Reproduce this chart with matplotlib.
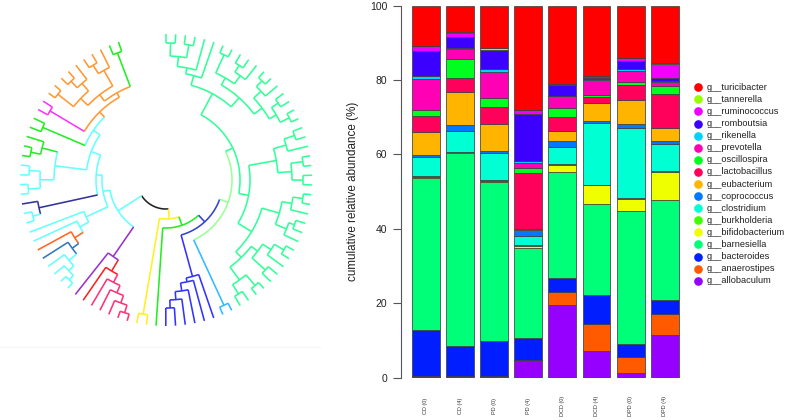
import numpy as np
import matplotlib
matplotlib.use("Agg")
import matplotlib.pyplot as plt
from matplotlib.transforms import blended_transform_factory

plt.rcParams['font.family'] = ['Liberation Sans', 'DejaVu Sans']

# ---- bar data (stack order bottom -> top) ----
samples = ["CD (0)", "CD (4)", "PD (0)", "PD (4)", "DCD (0)", "DCD (4)", "DPD (0)", "DPD (4)"]
genera = ["g__allobaculum", "g__anaerostipes", "g__bacteroides", "g__barnesiella",
          "g__bifidobacterium", "g__burkholderia", "g__clostridium", "g__coprococcus",
          "g__eubacterium", "g__lactobacillus", "g__oscillospira", "g__prevotella",
          "g__rikenella", "g__romboutsia", "g__ruminococcus", "g__tannerella", "g__turicibacter"]
genus_colors = ["#9600FF", "#FF5A00", "#001EFF", "#00FF78", "#F0FF00", "#3CFF00", "#00FFD2",
                "#0078FF", "#FFB400", "#FF005A", "#00FF1E", "#FF00B4", "#00D2FF", "#3C00FF",
                "#F000FF", "#96FF00", "#FF0000"]

allobaculum     = [0.3, 0.4, 0.4, 4.7, 19.6, 7.3, 1.2, 11.6]
anaerostipes    = [0.05, 0.05, 0.05, 0.2, 3.4, 7.2, 4.5, 5.6]
bacteroides     = [12.4, 8.05, 9.5, 5.7, 3.9, 7.6, 3.4, 3.6]
barnesiella     = [41.1, 52.2, 42.8, 24.4, 28.7, 24.7, 35.9, 27.1]
bifidobacterium = [0.2, 0.2, 0.15, 0.6, 1.8, 4.9, 3.2, 7.6]
burkholderia    = [0.2, 0.1, 0.15, 0.2, 0.2, 0.1, 0.3, 0.1]
clostridium     = [5.2, 5.5, 7.5, 2.5, 4.7, 16.6, 18.8, 7.3]
coprococcus     = [0.4, 1.7, 0.3, 1.5, 1.6, 0.7, 1.2, 0.9]
eubacterium     = [6.3, 9.0, 7.4, 0.4, 2.6, 4.7, 6.4, 3.5]
lactobacillus   = [4.2, 3.6, 4.5, 14.9, 3.9, 1.7, 4.0, 9.2]
oscillospira    = [1.8, 5.1, 2.5, 1.5, 2.4, 0.4, 0.9, 2.2]
prevotella      = [8.2, 2.9, 7.1, 1.2, 3.2, 4.2, 3.1, 0.9]
rikenella       = [0.9, 0.2, 0.7, 0.7, 0.1, 0.2, 0.3, 0.2]
romboutsia      = [6.6, 2.8, 5.1, 12.5, 2.8, 0.3, 2.2, 1.0]
ruminococcus    = [1.35, 1.3, 0.1, 1.1, 0.2, 0.2, 0.9, 3.8]
tannerella      = [0.1, 0.05, 0.3, 0.1, 0.05, 0.3, 0.1, 0.1]
turicibacter    = [10.85, 7.2, 11.5, 28.1, 21.2, 18.9, 14.0, 15.5]

abund = np.array([allobaculum, anaerostipes, bacteroides, barnesiella, bifidobacterium,
                  burkholderia, clostridium, coprococcus, eubacterium, lactobacillus,
                  oscillospira, prevotella, rikenella, romboutsia, ruminococcus,
                  tannerella, turicibacter])
abund = abund / abund.sum(axis=0) * 100

# ---- tree (topology + node radius in px, @colour key) ----
tree_cols = {'bk': '#222222', 'sg': '#33FF99', 'lg': '#99FF99', 'lb': '#33BBFF',
             'bl': '#3333FF', 'bn': '#3344CC', 'gr': '#22EE22', 'ye': '#FFF022',
             'pk': '#FF3377', 'rd': '#FF2222', 'pu': '#9933CC', 'cy': '#66FFFF',
             'sb': '#3377BB', 'or': '#FF6622', 'nv': '#333399', 'mg': '#FF33FF',
             'og': '#FF9933'}

sg_a1 = "((((x,x)137,(x,x)137)124,x)114,x)108"
sg_a2 = "(((x,x)138,((x,x)136,x)128)118,(((x,x)138,x)130,((x,x)136,(x,x)138)128)120)110"
sg_b1 = "(((x,x)136,x)125,((x,x)138,(x,x)137)126)112"
sg_b2 = "((((x,x)138,x)128,((x,x)136,x)130)118,((((x,x)137,x)126,(x,x)134)116,((x,x)138,(x,x)135)124)108)100"
sg = f"(({sg_a1},{sg_a2})98,({sg_b1},{sg_b2})84)74@sg"
lb = "(x,x)138@lb"
blue = "(x,(x,(x,(x,(x,x)128)120)112)104)100@bl"
right_side = f"(((({sg},{lb})66@lg,{blue})57@bn,x)48@gr,(x,x)136@ye)39@ye"

pink = "((((x,x)139,x)131,x)123,x)115@pk"
purple = f"(({pink},x)106@rd,x)93@pu"
cy_low = "(((((((x,x)139,x)133,x)126@cy,x)116@sb,x)108@or,x)98,x)88@cy"
navy = "((x,x)138@cy,x)130@nv"
cy_mid = "(((x,x)138,(x,x)137)126,((x,x)138,x)128@gr)112"
orange = "(((x,x)138,((x,x)137,x)128)118,((x,x)136,x)126)108"
cy_up = f"((x,x)134@gr,((x,x)135@mg,({orange},(x,x)136@gr)100@og)95@og)88@cy"
left_side = f"({purple},({cy_low},({navy},({cy_mid},{cy_up})80)70)64)57@cy"
tree_str = f"({right_side},{left_side})29@bk"


def parse(s):
    pos = 0

    def node():
        nonlocal pos
        kids = []
        if s[pos] == '(':
            pos += 1
            kids.append(node())
            while s[pos] == ',':
                pos += 1
                kids.append(node())
            pos += 1
        else:
            pos += 1
        st = pos
        while pos < len(s) and (s[pos].isdigit() or s[pos] == '.'):
            pos += 1
        r = float(s[st:pos]) if pos > st else None
        col = None
        if pos < len(s) and s[pos] == '@':
            pos += 1
            st = pos
            while pos < len(s) and s[pos].isalpha():
                pos += 1
            col = s[st:pos]
        return {'kids': kids, 'r': r, 'col': col}
    return node()


root = parse(tree_str)
TIP = 146.0
CX, CY = 166.0, 180.0

leaves = []


def collect(n, col):
    if n['col'] is None:
        n['col'] = col
    if not n['kids']:
        n['r'] = TIP
        leaves.append(n)
    for k in n['kids']:
        collect(k, n['col'])


collect(root, 'bk')
n_leaf = len(leaves)
span = 341.0
for i, lf in enumerate(leaves):
    lf['a'] = 90.0 - i * span / (n_leaf - 1)


def set_angle(n):
    if n['kids']:
        n['a'] = np.mean([set_angle(k) for k in n['kids']])
    return n['a']


set_angle(root)


def xy(r, a):
    a = np.radians(a)
    return CX + r * np.cos(a), CY - r * np.sin(a)


fig = plt.figure(figsize=(7.89, 4.20), dpi=100)

# ---- stacked bars ----
ax = fig.add_axes([401 / 789, 42.3 / 420, 289 / 789, 372 / 420])
x = np.arange(len(samples))
bottom = np.zeros(len(samples))
for vals, c in zip(abund, genus_colors):
    ax.bar(x, vals, bottom=bottom, width=0.82, color=c, edgecolor='#404040', linewidth=0.55)
    bottom += vals
ax.set_xlim(-0.733, 7.742)
ax.set_ylim(0, 100)
for s in ['top', 'right', 'bottom']:
    ax.spines[s].set_visible(False)
ax.spines['left'].set_color('#555555')
ax.set_yticks(np.arange(0, 101, 20))
ax.tick_params(axis='y', length=5.8, width=0.8, color='#555555', pad=4, labelsize=7.5, labelcolor='#222222')
ax.set_xticks([])
ax.set_ylabel("cumulative relative abundance (%)", fontsize=8.4, color='#222222', labelpad=8)
trans = blended_transform_factory(ax.transData, ax.transAxes)
for i, lab in enumerate(samples):
    ax.text(i, -0.076, lab, rotation=90, ha='center', va='center', fontsize=4, transform=trans,
            color='#333333')

# ---- overlay: tree + legend in pixel units ----
ov = fig.add_axes([0, 0, 1, 1])
ov.set_xlim(0, 789)
ov.set_ylim(420, 0)
ov.axis('off')


def draw(n):
    if not n['kids']:
        return
    angs = [k['a'] for k in n['kids']]
    aa = np.linspace(min(angs), max(angs), 60)
    px, py = xy(n['r'], aa)
    ov.plot(px, py, color=tree_cols[n['col']], lw=1.15, solid_capstyle='butt')
    for k in n['kids']:
        x0, y0 = xy(n['r'], k['a'])
        x1, y1 = xy(k['r'], k['a'])
        ov.plot([x0, x1], [y0, y1], color=tree_cols[k['col']], lw=1.15, solid_capstyle='butt')
        draw(k)


draw(root)
ov.plot([0, 320], [347, 347], color='#f7f7f7', lw=1)

for j, (g, c) in enumerate(zip(genera[::-1], genus_colors[::-1])):
    yy = 87.3 + j * 12.09
    ov.plot(698, yy, 'o', ms=5.2, color=c)
    ov.text(707, yy, g, fontsize=6.7, va='center', ha='left', color='#222222')

fig.savefig("out.png", dpi=100)
